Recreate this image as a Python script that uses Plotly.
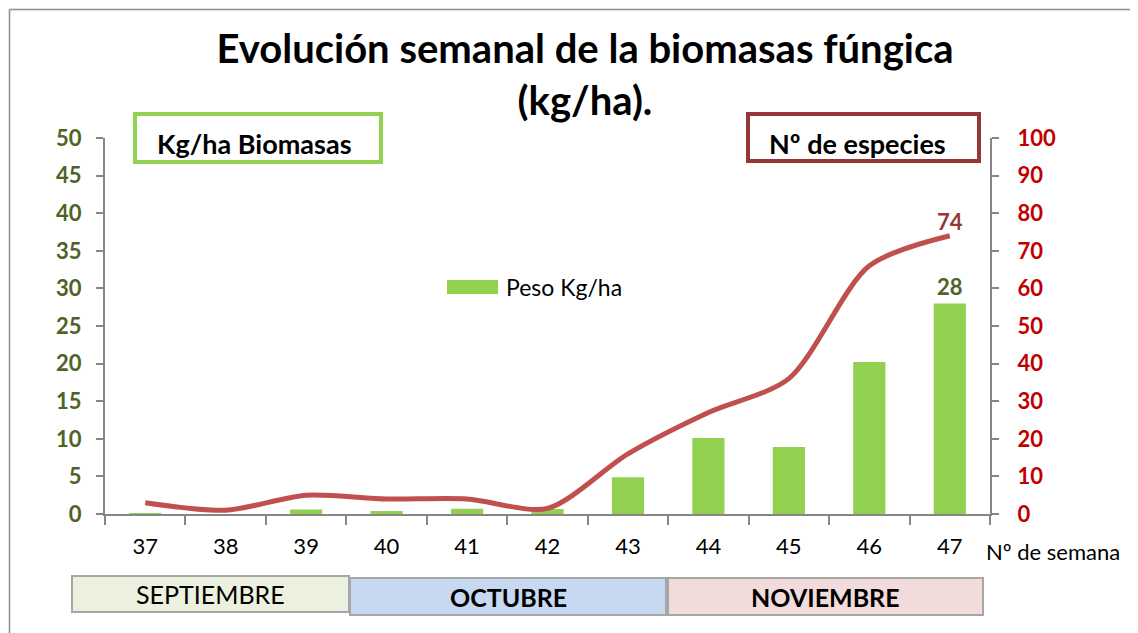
import plotly.graph_objects as go

weeks = ["37", "38", "39", "40", "41", "42", "43", "44", "45", "46", "47"]
biomasa = [0.1, 0.0, 0.6, 0.4, 0.7, 0.65, 4.9, 10.1, 8.9, 20.2, 28]
especies = [3, 1, 5, 4, 4, 1.5, 16, 27, 36, 66, 74]
months = ["SEPTIEMBRE", "OCTUBRE", "NOVIEMBRE"]
left_ticks = [0, 5, 10, 15, 20, 25, 30, 35, 40, 45, 50]
right_ticks = [0, 10, 20, 30, 40, 50, 60, 70, 80, 90, 100]

OFF = 8  # browser body margin
PAGE_W, PAGE_H = 1138, 633
W, H = PAGE_W - OFF, PAGE_H - OFF
L, R, T, B = 105, 990, 138, 514  # plot area in page pixels
PW, PH = R - L, B - T


def px(x):
    return (x - L) / PW


def py(y):
    return (B - y) / PH


FONT = "Lato"
GREEN = "#92D050"
RED = "#C0504D"
OLIVE = "#4F6228"
DARKRED = "#C00000"
AXIS = "#868686"

bar_text = ["" for _ in biomasa]
bar_text[-1] = f"{biomasa[-1]:g}"
line_text = ["" for _ in especies]
line_text[-1] = f"{especies[-1]:g}"

fig = go.Figure()
fig.add_trace(go.Bar(
    x=weeks, y=biomasa, name="Peso Kg/ha", marker_color=GREEN,
    marker_line_width=0, text=bar_text, textposition="outside",
    textfont=dict(family=FONT, size=22, color=OLIVE, weight="bold"), cliponaxis=False,
    yaxis="y", showlegend=False,
))
fig.add_trace(go.Scatter(
    x=weeks, y=especies, mode="lines+text",
    line=dict(color=RED, width=5, shape="spline", smoothing=0.8),
    text=line_text, textposition="top center",
    textfont=dict(family=FONT, size=22, color="#953735", weight="bold"),
    showlegend=False, yaxis="y2", cliponaxis=False,
))

shapes = []
annotations = []

# outer border (bottom edge falls outside the picture, as in the original)
border_col = "#8C8C8C"
for (xa, ya, xb, yb) in [(9.5, 9.5, 1132, 9.5), (9.5, 9.5, 9.5, 640), (1132, 9.5, 1132, 640)]:
    shapes.append(dict(type="line", xref="paper", yref="paper",
                       x0=px(xa), y0=py(ya), x1=px(xb), y1=py(yb),
                       line=dict(color=border_col, width=1.5), layer="above"))

# label boxes
shapes.append(dict(type="rect", xref="paper", yref="paper",
                   x0=px(135), x1=px(381), y0=py(162), y1=py(114),
                   line=dict(color=GREEN, width=4), fillcolor="white"))
annotations.append(dict(xref="paper", yref="paper", x=px(155), y=py(143), xanchor="left", yanchor="middle",
                        text="<b>Kg/ha Biomasas</b>", showarrow=False,
                        font=dict(family=FONT, size=27, color="black")))
shapes.append(dict(type="rect", xref="paper", yref="paper",
                   x0=px(748), x1=px(979), y0=py(161), y1=py(114),
                   line=dict(color="#953735", width=4), fillcolor="white"))
annotations.append(dict(xref="paper", yref="paper", x=px(767), y=py(143), xanchor="left", yanchor="middle",
                        text="<b>Nº de especies</b>", showarrow=False,
                        font=dict(family=FONT, size=27, color="black")))

# legend (drawn manually to get the wide swatch)
shapes.append(dict(type="rect", xref="paper", yref="paper",
                   x0=px(447), x1=px(498), y0=py(294), y1=py(280),
                   line=dict(width=0), fillcolor=GREEN))
annotations.append(dict(xref="paper", yref="paper", x=px(504), y=py(287), xanchor="left", yanchor="middle",
                        text=fig.data[0].name, showarrow=False,
                        font=dict(family=FONT, size=23, color="black")))

# month boxes
month_boxes = [(72, 349, 576, 612, "#EBF1DE", False),
               (350, 666, 578, 615, "#C6D9F1", True),
               (668, 983, 578, 615, "#F2DCDB", True)]
for name, (x0, x1, y0, y1, fc, bold) in zip(months, month_boxes):
    shapes.append(dict(type="rect", xref="paper", yref="paper",
                       x0=px(x0), x1=px(x1), y0=py(y1), y1=py(y0),
                       line=dict(color="#A6A6A6", width=2), fillcolor=fc))
    annotations.append(dict(xref="paper", yref="paper", x=px((x0 + x1) / 2), y=py((y0 + y1) / 2),
                            xanchor="center", yanchor="middle",
                            text=(f"<b>{name}</b>" if bold else name), showarrow=False,
                            font=dict(family=FONT, size=25, color="black")))

# x axis title
annotations.append(dict(xref="paper", yref="paper", x=px(984), y=py(551), xanchor="left", yanchor="middle",
                        text="Nº de semana", showarrow=False,
                        font=dict(family=FONT, size=22, color="black")))

fig.update_layout(
    width=W, height=H, autosize=False,
    margin=dict(l=L - OFF, r=PAGE_W - R, t=T - OFF, b=PAGE_H - B, pad=0),
    paper_bgcolor="white", plot_bgcolor="white",
    title=dict(text="<b>Evolución semanal de la biomasas fúngica<br>(kg/ha).</b>",
               xref="paper", x=px(585), xanchor="center", y=1 - (63 - OFF) / H, yanchor="middle",
               font=dict(family=FONT, size=40, color="black")),
    font=dict(family=FONT),
    bargap=0.6,
    showlegend=False,
    xaxis=dict(type="category", range=[-0.5, 10.5], showline=True, linecolor=AXIS, linewidth=2,
               ticks="outside", tickson="boundaries", ticklen=9, tickcolor=AXIS, tickwidth=2,
               ticklabelstandoff=12,
               tickfont=dict(family=FONT, size=22, color="black"), showgrid=False, zeroline=False),
    yaxis=dict(range=[0, 50], tickvals=left_ticks, showline=True, linecolor=AXIS, linewidth=2,
               ticks="outside", ticklen=7, tickcolor=AXIS, tickwidth=2, showgrid=False, zeroline=False,
               ticklabelstandoff=10,
               tickfont=dict(family=FONT, size=22, color=OLIVE, weight="bold")),
    yaxis2=dict(range=[0, 100], tickvals=right_ticks, overlaying="y", side="right", showline=True,
                linecolor=AXIS, linewidth=2, ticks="outside", ticklen=7, tickcolor=AXIS, tickwidth=2,
                showgrid=False, zeroline=False, ticklabelstandoff=14,
                tickfont=dict(family=FONT, size=22, color=DARKRED, weight="bold")),
    shapes=shapes, annotations=annotations,
)

fig.write_html("out.html")
